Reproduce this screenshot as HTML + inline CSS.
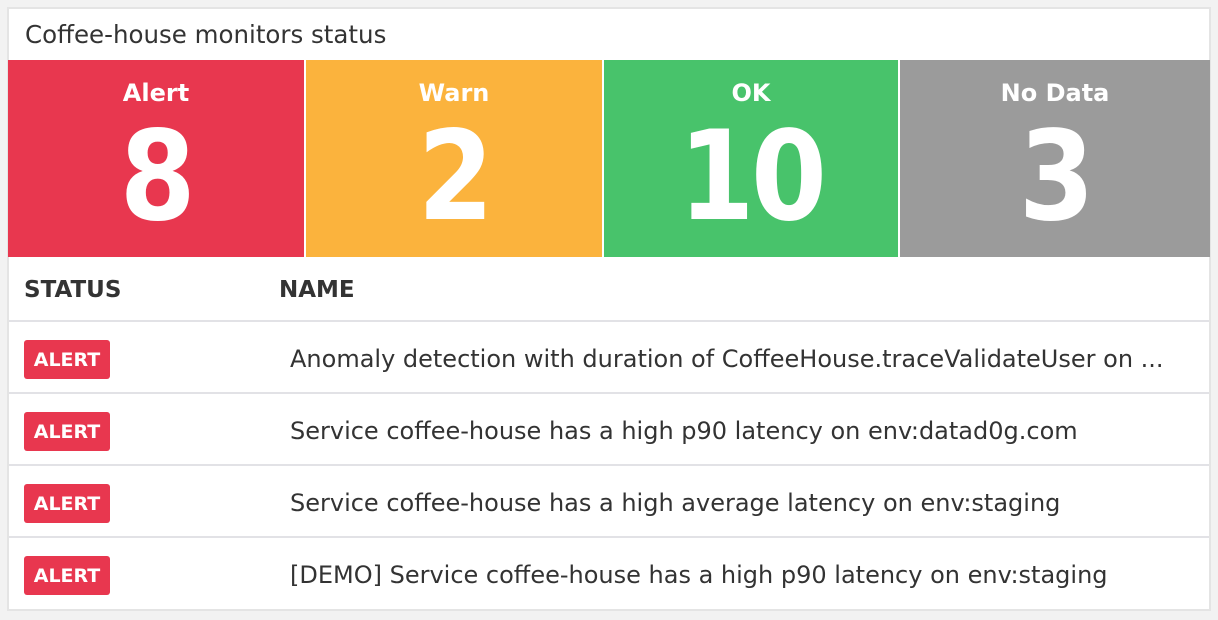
<!DOCTYPE html>
<html><head><style>
body{margin:0;width:1218px;height:620px;background:#f2f2f2;font-family:"DejaVu Sans","Liberation Sans",sans-serif;overflow:hidden}
.p{position:absolute;left:7px;top:7px;width:1200px;height:600px;background:#fff;border:2px solid #e4e4e4}
.t{position:absolute;left:16px;top:11px;font-size:24.5px;color:#333}
.tile{position:absolute;top:51px;height:197px;color:#fff;text-align:center;font-family:"DejaVu Sans",sans-serif;font-weight:bold}
.tile .l{position:absolute;top:19px;width:100%;font-size:24px}
.tile .n{position:absolute;top:42px;width:100%;font-size:124px;line-height:150px;letter-spacing:-4px;transform:scaleX(0.88)}
.h{position:absolute;top:268px;font-size:23px;font-weight:bold;color:#333}
.row{position:absolute;left:0;width:1200px;height:72px;border-top:2px solid #e2e2e6}
.b{position:absolute;left:15px;top:18px;width:86px;height:39px;background:#e8374f;border-radius:3px;color:#fff;font-weight:bold;font-size:19px;line-height:40px;text-align:center}
.nm{position:absolute;left:281px;top:23px;font-size:24px;color:#333;white-space:nowrap}
</style></head><body>
<div class="p">
<div class="t">Coffee-house monitors status</div>
<div class="tile" style="left:-1px;width:296px;background:#e8374f"><div class="l">Alert</div><div class="n">8</div></div>
<div class="tile" style="left:297px;width:296px;background:#fbb33d"><div class="l">Warn</div><div class="n">2</div></div>
<div class="tile" style="left:595px;width:294px;background:#48c36b"><div class="l">OK</div><div class="n">10</div></div>
<div class="tile" style="left:891px;width:310px;background:#9b9b9b"><div class="l">No Data</div><div class="n">3</div></div>
<div class="h" style="left:15px">STATUS</div>
<div class="h" style="left:270px">NAME</div>
<div class="row" style="top:311px"><div class="b">ALERT</div><div class="nm">Anomaly detection with duration of CoffeeHouse.traceValidateUser on ...</div></div>
<div class="row" style="top:383px"><div class="b">ALERT</div><div class="nm">Service coffee-house has a high p90 latency on env:datad0g.com</div></div>
<div class="row" style="top:455px"><div class="b">ALERT</div><div class="nm">Service coffee-house has a high average latency on env:staging</div></div>
<div class="row" style="top:527px"><div class="b">ALERT</div><div class="nm">[DEMO] Service coffee-house has a high p90 latency on env:staging</div></div>
</div>
</body></html>
